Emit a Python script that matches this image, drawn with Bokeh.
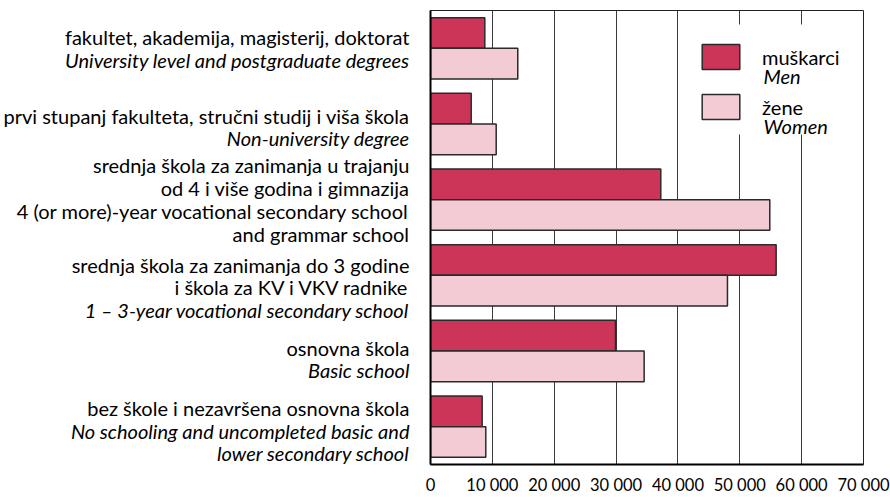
from bokeh.plotting import figure
from bokeh.layouts import row
from bokeh.models import (Range1d, FixedTicker, Label, Legend, LegendItem,
                          ColumnDataSource, BoxAnnotation)
from bokeh.core.properties import value, field
from bokeh.transform import dodge
from bokeh.embed import file_html
from bokeh.resources import INLINE

# ---- data ----
categories = [
    "University level and postgraduate degrees",
    "Non-university degree",
    "4 (or more)-year vocational secondary school and grammar school",
    "1 - 3-year vocational secondary school",
    "Basic school",
    "No schooling and uncompleted basic and lower secondary school",
]
# label lines: (text, italic?)
category_lines = [
    [("fakultet, akademija, magisterij, doktorat", False),
     ("University level and postgraduate degrees", True)],
    [("prvi stupanj fakulteta, stručni studij i viša škola", False),
     ("Non-university degree", True)],
    [("srednja škola za zanimanja u trajanju", False),
     ("od 4 i više godina i gimnazija", False),
     ("4 (or more)-year vocational secondary school", False),
     ("and grammar school", False)],
    [("srednja škola za zanimanja do 3 godine", False),
     ("i škola za KV i VKV radnike", False),
     ("1 – 3-year vocational secondary school", True)],
    [("osnovna škola", False),
     ("Basic school", True)],
    [("bez škole i nezavršena osnovna škola", False),
     ("No schooling and uncompleted basic and", True),
     ("lower secondary school", True)],
]
men = [8780, 6580, 37230, 55880, 29910, 8350]
women = [14110, 10620, 54850, 48010, 34540, 8940]
series_hr = ["muškarci", "žene"]
series_en = ["Men", "Women"]
x_ticks = [0, 10000, 20000, 30000, 40000, 50000, 60000, 70000]
x_tick_labels = ["0", "10 000", "20 000", "30 000", "40 000", "50 000", "60 000", "70 000"]

# ---- styles / layout ----
FONT = "Lato"
FS = "20px"
MEN_COLOR = "#CC3558"
WOMEN_COLOR = "#F3CBD5"
EDGE = "#2a2a2a"

H = 497
LEFT_W = 425          # label panel width
CHART_W = 890 - LEFT_W
TOP, BOTTOM = 10, 30

ypos = [i + 0.5 for i in range(len(categories))]
source = ColumnDataSource(dict(y=ypos, men=men, women=women, cat=categories))
yr = Range1d(len(categories), 0)

# ---- chart ----
p = figure(width=CHART_W, height=H, output_backend="svg", toolbar_location=None,
           title=None, x_range=Range1d(0, 70000), y_range=yr,
           min_border_left=5, min_border_right=27,
           min_border_top=TOP, min_border_bottom=BOTTOM)
p.background_fill_color = "white"
p.border_fill_color = "white"
p.outline_line_color = "#222222"
p.outline_line_width = 1

r_men = p.hbar(y=dodge('y', -0.2025), left=0, right='men', height=0.405, source=source,
               fill_color=MEN_COLOR, line_color=EDGE, line_width=1.5)
r_women = p.hbar(y=dodge('y', 0.2025), left=0, right='women', height=0.405, source=source,
                 fill_color=WOMEN_COLOR, line_color=EDGE, line_width=1.5)

xa = p.xaxis[0]
xa.ticker = FixedTicker(ticks=x_ticks)
xa.major_label_overrides = dict(zip(x_ticks, x_tick_labels))
xa.major_label_text_font = FONT
xa.major_label_text_font_size = "16.5px"
xa.major_label_text_color = "black"
xa.major_label_standoff = 10
xa.axis_line_color = "black"
xa.axis_line_width = 2
xa.major_tick_out = 0
xa.major_tick_in = 0
xa.minor_tick_out = 0
xa.minor_tick_in = 0

ya = p.yaxis[0]
ya.ticker = FixedTicker(ticks=[])
ya.axis_line_color = "black"
ya.axis_line_width = 2
ya.major_label_standoff = 0
ya.major_tick_out = 0
ya.major_tick_in = 0
ya.minor_tick_out = 0
ya.minor_tick_in = 0

p.xgrid.ticker = FixedTicker(ticks=x_ticks)
p.xgrid.grid_line_color = "#3a3a3a"
p.xgrid.grid_line_width = 1
p.ygrid.visible = False

# white area behind the legend (hides grid lines there)
p.add_layout(BoxAnnotation(left=255, right=420, bottom=330, top=440,
                           left_units="screen", right_units="screen",
                           bottom_units="screen", top_units="screen",
                           fill_color="white", fill_alpha=1.0, line_color=None,
                           level="guide"))

legend = Legend(items=[LegendItem(label=series_hr[0], renderers=[r_men]),
                       LegendItem(label=series_hr[1], renderers=[r_women])],
                location=(267, 342), orientation="vertical",
                glyph_width=47, glyph_height=31, label_height=14, label_width=60,
                spacing=19, label_standoff=18, padding=0, margin=0,
                background_fill_alpha=0.0, border_line_color=None,
                label_text_font=FONT, label_text_font_size=FS,
                label_text_color="black", label_text_baseline="bottom")
p.add_layout(legend)

en_y = [389, 339]
for name, yy in zip(series_en, en_y):
    p.add_layout(Label(x=333, y=yy, x_units="screen", y_units="screen", text=name,
                       text_font=FONT, text_font_size=FS, text_font_style="italic",
                       text_color="black", text_baseline="alphabetic", text_align="left"))

# ---- category label panel (shares the y scale) ----
cat_shift = [0, 3, 0, 12, 8, 4]
LINE = 22.8
lx, ly, ltxt, lstyle, loff = [], [], [], [], []
for i, lines in enumerate(category_lines):
    n = len(lines)
    for j, (txt, ital) in enumerate(lines):
        lx.append(409)
        ly.append(ypos[i])
        ltxt.append(txt)
        lstyle.append("italic" if ital else "normal")
        loff.append(cat_shift[i] + (j - (n - 1) / 2) * LINE)
lsrc = ColumnDataSource(dict(x=lx, y=ly, text=ltxt, style=lstyle, off=loff))

q = figure(width=LEFT_W, height=H, output_backend="svg", toolbar_location=None,
           title=None, x_range=Range1d(0, LEFT_W), y_range=yr,
           x_axis_location=None, y_axis_location=None,
           min_border_left=0, min_border_right=0,
           min_border_top=TOP, min_border_bottom=BOTTOM)
q.outline_line_color = None
q.grid.visible = False
q.background_fill_color = "white"
q.border_fill_color = "white"
q.text(x='x', y='y', text='text', source=lsrc, y_offset='off',
       text_font=value(FONT), text_font_size=value(FS), text_font_style=field('style'),
       text_color="black", text_align="right", text_baseline="middle")

layout = row(q, p, spacing=0)
open("out.html", "w").write(file_html(layout, INLINE))
